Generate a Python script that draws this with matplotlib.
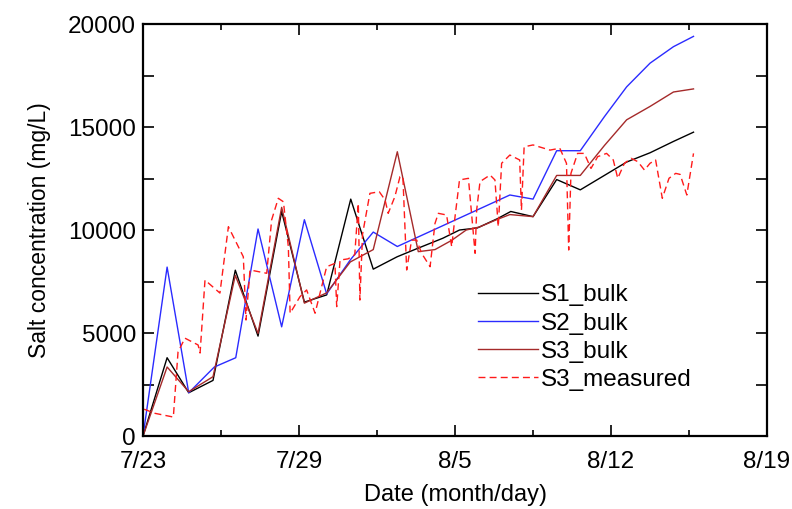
import matplotlib.pyplot as plt
from matplotlib.ticker import MultipleLocator

plt.rcParams['font.family'] = ['Liberation Sans', 'DejaVu Sans']

# days since 7/23
s1_days = [0, 1.08, 2.05, 3.14, 4.14, 5.16, 6.22, 7.24, 8.24, 9.32, 10.33, 11.4, 12.3,
           13.45, 14.2, 15.0, 15.9, 16.5, 17.5, 18.56, 19.62, 20.7, 21.7, 22.75, 23.8, 24.7]
s1_bulk = [0, 3800, 2100, 2700, 8050, 4850, 10900, 6500, 6850, 11500, 8100, 8700, 9100,
           9600, 10000, 10100, 10550, 10900, 10650, 12450, 11950, 12650, 13300, 13750, 14300, 14750]

s2_days = [0, 1.08, 2.05, 3.2, 4.16, 5.16, 6.22, 7.24, 8.24, 9.3, 10.33, 11.41, 16.46,
           17.5, 18.56, 19.62, 20.7, 21.7, 22.75, 23.8, 24.7]
s2_bulk = [0, 8200, 2100, 3350, 3800, 10050, 5300, 10500, 6900, 8550, 9900, 9200, 11700,
           11500, 13850, 13850, 15500, 16950, 18100, 18900, 19400]

s3_days = [0, 1.08, 2.05, 3.14, 4.14, 5.16, 6.22, 7.24, 8.24, 9.3, 10.33, 11.41, 12.35,
           13.1, 13.85, 14.5, 15.1, 15.86, 16.46, 17.5, 18.56, 19.62, 20.7, 21.7, 22.75, 23.8, 24.7]
s3_bulk = [0, 3350, 2150, 2880, 7800, 4980, 11100, 6450, 6950, 8450, 9050, 13800, 8950,
           9050, 9500, 10000, 10150, 10500, 10750, 10650, 12650, 12650, 14100, 15350, 16000, 16700, 16850]

s3_meas_days = [0.05, 0.54, 1.36, 1.57, 1.88, 2.47, 2.56, 2.78, 3.45, 3.83, 4.35, 4.5, 4.62,
                4.8, 5.55, 5.77, 6.07, 6.3, 6.52, 6.6, 7.04, 7.34, 7.72, 7.94, 8.24, 8.61,
                8.69, 8.84, 9.2, 9.5, 9.66, 9.73, 9.85, 10.18, 10.6, 10.86, 11.0, 11.3, 11.53,
                11.66, 11.83, 12.05, 12.28, 12.5, 12.88, 13.1, 13.25, 13.62, 13.85, 14.0, 14.2,
                14.6, 14.9, 14.97, 15.12, 15.57, 15.79, 15.94, 16.09, 16.46, 16.9, 16.98, 17.1,
                17.5, 18.26, 18.7, 19.0, 19.1, 19.2, 19.5, 19.8, 20.1, 20.4, 20.8, 21.1, 21.3,
                21.6, 21.9, 22.2, 22.5, 22.75, 23.0, 23.3, 23.6, 23.9, 24.1, 24.4, 24.7]
s3_measured = [1300, 1100, 920, 4080, 4750, 4420, 4030, 7570, 6940, 10160, 9030, 8700, 5630,
               8060, 7900, 10490, 11540, 11370, 9190, 5960, 6760, 7090, 5960, 6930, 8220, 8380,
               6280, 8540, 8600, 8800, 11290, 6600, 9800, 11780, 11860, 11460, 10810, 11620, 12590,
               12590, 8060, 9510, 9510, 8870, 8220, 10320, 10810, 10730, 9190, 10650, 12430,
               12510, 8870, 10970, 12350, 12670, 12430, 10160, 13240, 13640, 13400, 10970, 14040,
               14130, 13880, 13970, 13240, 9030, 12750, 13720, 13720, 12990, 13560, 13720, 13400, 12510,
               13240, 13480, 13320, 12910, 13240, 13400, 11540, 12510, 12750, 12700, 11700, 13720]

tick_days = [0, 7, 14, 21, 28]
tick_labels = ['7/23', '7/29', '8/5', '8/12', '8/19']

fig = plt.figure(figsize=(7.92, 5.09), dpi=100)
ax = fig.add_axes([0.1806, 0.1434, 0.7879, 0.8094])

ax.plot(s1_days, s1_bulk, color='black', lw=1.0, label='S1_bulk')
ax.plot(s2_days, s2_bulk, color='#2b2bff', lw=1.0, label='S2_bulk')
ax.plot(s3_days, s3_bulk, color='#a52a2a', lw=1.0, label='S3_bulk')
ax.plot(s3_meas_days, s3_measured, color='#ff1a1a', lw=1.0, ls=(0, (5, 3)),
        label='S3_measured')

ax.set_xlim(0, 28)
ax.set_ylim(0, 20000)
ax.set_xticks(tick_days)
ax.set_xticklabels(tick_labels)
ax.xaxis.set_minor_locator(MultipleLocator(3.5))
ax.set_yticks([0, 5000, 10000, 15000, 20000])
ax.yaxis.set_minor_locator(MultipleLocator(2500))

ax.tick_params(which='both', direction='in', top=True, right=True, labelsize=17.5, width=1.2)
ax.tick_params(axis='x', which='major', length=8, pad=11)
ax.tick_params(axis='x', which='minor', length=4)
ax.tick_params(axis='y', which='both', length=8, pad=5)
for sp in ax.spines.values():
    sp.set_linewidth(1.6)

ax.set_xlabel('Date (month/day)', fontsize=17, labelpad=8)
ax.set_ylabel('Salt concentration (mg/L)', fontsize=16.5, labelpad=12)

ax.legend(loc='upper left', bbox_to_anchor=(0.537, 0.368), borderaxespad=0, borderpad=0,
          frameon=False, fontsize=17.5, handlelength=2.45, handletextpad=0.15, labelspacing=0.25)

fig.savefig('out.png', dpi=100)
